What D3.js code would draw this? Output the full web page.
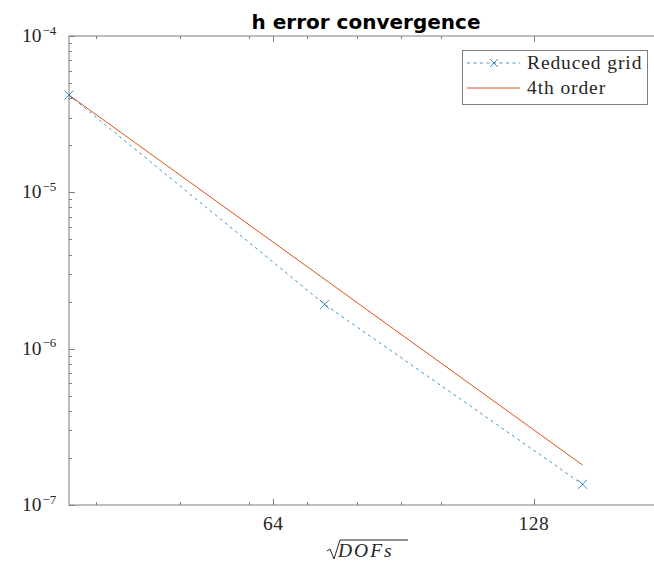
<!DOCTYPE html>
<html>
<head>
<meta charset="utf-8">
<script src="https://cdn.jsdelivr.net/npm/d3@7"></script>
<style>
  body { margin: 0; background: #fff; }
  svg { display: block; overflow: hidden; }
  .tick-label { font-family: "Liberation Serif", "DejaVu Serif", serif; fill: #262626; }
</style>
</head>
<body>
<svg id="chart"></svg>
<script>
const width = 654;
const height = 561;

// data
const dofs = [37.2, 73.4, 145.7];
const reducedErr = [4.19e-5, 1.92e-6, 1.355e-7];
const orderDofs = [37.2, 145.7];
const orderErr = [4.19e-5, 1.8e-7];

const xMajor = [64, 128];
const xMinor = [40, 50, 60, 70, 80, 90, 100];
const yMajor = [1e-7, 1e-6, 1e-5, 1e-4];
const yExp = ["\u22127", "\u22126", "\u22125", "\u22124"];
const yMinor = [];
[1e-7, 1e-6, 1e-5].forEach((d) => {
  for (let k = 2; k <= 9; k++) yMinor.push(d * k);
});

const margin = { top: 36, right: -9, bottom: 56, left: 69 };
const axisColor = "#7f7f7f";
const blue = "#0072BD";
const orange = "#D95319";

const svg = d3.select("#chart").attr("width", width).attr("height", height);

const x = d3
  .scaleLog()
  .domain([37.2, 180.4])
  .range([margin.left, width - margin.right]);
const y = d3
  .scaleLog()
  .domain([1e-7, 1e-4])
  .range([height - margin.bottom, margin.top]);

const x0 = margin.left,
  x1 = width - margin.right,
  y0 = height - margin.bottom,
  y1 = margin.top;

// axes box
svg
  .append("rect")
  .attr("x", x0)
  .attr("y", y1)
  .attr("width", x1 - x0)
  .attr("height", y0 - y1)
  .attr("fill", "none")
  .attr("stroke", axisColor)
  .attr("stroke-width", 1);

// ticks (inward, minor ones shorter)
const ticks = svg.append("g").attr("stroke", axisColor).attr("stroke-width", 1);
const xt = xMajor.map((v) => ({ v, len: 6 })).concat(xMinor.map((v) => ({ v, len: 3 })));
xt.forEach((t) => {
  const px = Math.round(x(t.v)) + 0.5;
  ticks.append("line").attr("x1", px).attr("x2", px).attr("y1", y0).attr("y2", y0 - t.len);
  ticks.append("line").attr("x1", px).attr("x2", px).attr("y1", y1).attr("y2", y1 + t.len);
});
const yt = yMajor.map((v) => ({ v, len: 6 })).concat(yMinor.map((v) => ({ v, len: 3 })));
yt.forEach((t) => {
  const py = Math.round(y(t.v)) + 0.5;
  ticks.append("line").attr("x1", x0).attr("x2", x0 + t.len).attr("y1", py).attr("y2", py);
});

// x tick labels
svg
  .selectAll(".xlab")
  .data(xMajor)
  .enter()
  .append("text")
  .attr("class", "tick-label")
  .attr("x", (d) => x(d))
  .attr("y", y0 + 25)
  .attr("text-anchor", "middle")
  .attr("font-size", 19.5)
  .attr("letter-spacing", 0.5)
  .text((d) => d);

// y tick labels 10^n
const ylab = svg
  .selectAll(".ylab")
  .data(yMajor)
  .enter()
  .append("text")
  .attr("class", "tick-label")
  .attr("x", 22)
  .attr("y", (d) => y(d) + 6)
  .attr("font-size", 19.5);
ylab.append("tspan").text("10");
ylab
  .append("tspan")
  .attr("dy", -7.5)
  .attr("dx", 1)
  .attr("font-size", 13)
  .text((d, i) => yExp[i]);

// lines
const line = d3
  .line()
  .x((d) => x(d[0]))
  .y((d) => y(d[1]));

svg
  .append("path")
  .datum(dofs.map((d, i) => [d, reducedErr[i]]))
  .attr("d", line)
  .attr("fill", "none")
  .attr("stroke", blue)
  .attr("stroke-opacity", 0.75)
  .attr("stroke-width", 1)
  .attr("stroke-dasharray", "3,3.5");

svg
  .append("path")
  .datum(orderDofs.map((d, i) => [d, orderErr[i]]))
  .attr("d", line)
  .attr("fill", "none")
  .attr("stroke", orange)
  .attr("stroke-width", 1);

const cross = (g, cx, cy, r) => {
  g.append("path")
    .attr("d", `M${cx - r},${cy - r}L${cx + r},${cy + r}M${cx - r},${cy + r}L${cx + r},${cy - r}`)
    .attr("stroke", blue)
    .attr("stroke-opacity", 0.75)
    .attr("stroke-width", 1)
    .attr("fill", "none");
};
dofs.forEach((d, i) => cross(svg, x(d), y(reducedErr[i]), 4.5));

// title
svg
  .append("text")
  .attr("x", (x0 + x1) / 2)
  .attr("y", 29)
  .attr("text-anchor", "middle")
  .attr("font-family", "DejaVu Sans, sans-serif")
  .attr("font-weight", "bold")
  .attr("font-size", 20)
  .attr("fill", "#000")
  .text("h error convergence");

// x label: sqrt(DOFs)
const xl = svg.append("g");
xl.append("text")
  .attr("class", "tick-label")
  .attr("x", 338)
  .attr("y", 557)
  .attr("font-size", 19.5)
  .attr("font-style", "italic")
  .attr("letter-spacing", 2)
  .text("DOFs");
xl.append("path")
  .attr("d", "M327,551 L330,549 L334,559 L340,540 L408,540")
  .attr("fill", "none")
  .attr("stroke", "#262626")
  .attr("stroke-width", 1);

// legend
const legend = svg.append("g").attr("transform", "translate(462,50)");
legend
  .append("rect")
  .attr("x", 0.5)
  .attr("y", 0.5)
  .attr("width", 185)
  .attr("height", 54)
  .attr("fill", "#fff")
  .attr("stroke", axisColor);
legend
  .append("line")
  .attr("x1", 5)
  .attr("x2", 58)
  .attr("y1", 13)
  .attr("y2", 13)
  .attr("stroke", blue)
  .attr("stroke-opacity", 0.75)
  .attr("stroke-dasharray", "3,3.5");
cross(legend, 32, 13, 4);
legend
  .append("line")
  .attr("x1", 5)
  .attr("x2", 58)
  .attr("y1", 38)
  .attr("y2", 38)
  .attr("stroke", orange);
legend
  .append("text")
  .attr("class", "tick-label")
  .attr("x", 65)
  .attr("y", 19)
  .attr("font-size", 19.5)
  .attr("letter-spacing", 0.9)
  .text("Reduced grid");
legend
  .append("text")
  .attr("class", "tick-label")
  .attr("x", 65)
  .attr("y", 44)
  .attr("font-size", 19.5)
  .attr("letter-spacing", 0.9)
  .text("4th order");
</script>
</body>
</html>
